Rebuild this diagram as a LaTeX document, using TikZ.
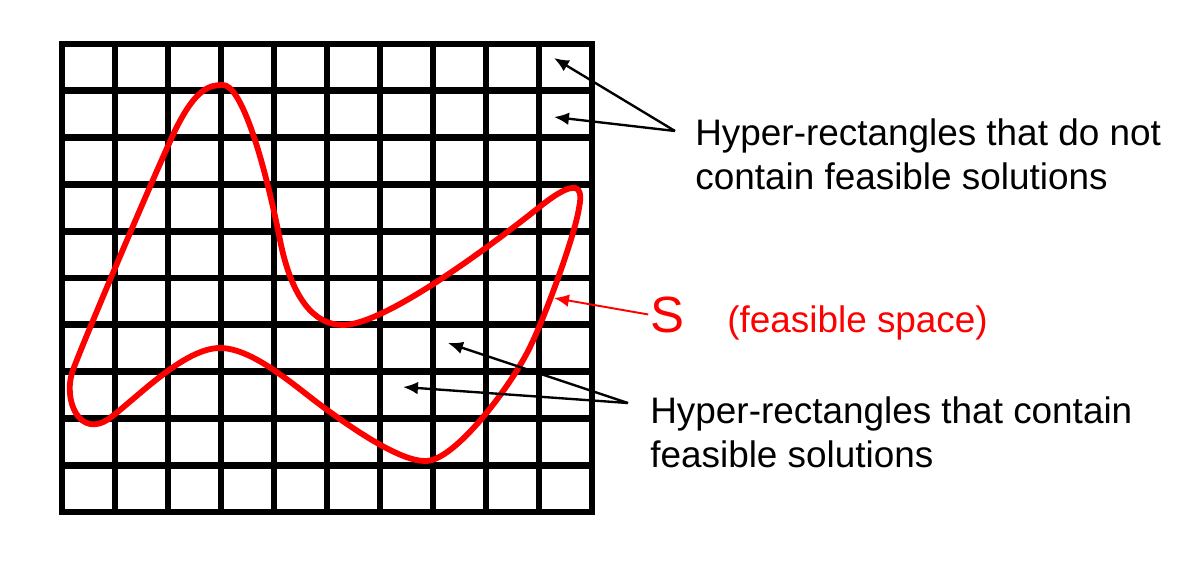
\documentclass[tikz,border=0pt]{standalone}
\usepackage{fontspec}
\setmainfont{Liberation Sans}
\usetikzlibrary{arrows.meta}

\tikzset{
  gridline/.style={line width=3.9pt, line cap=rect},
  region/.style={draw=red, line width=3.3pt},
  pointer/.style={-{Latex[length=8.5pt,width=7.2pt]}, line width=1.35pt},
  note/.style={inner sep=0pt, align=left, font=\fontsize{21}{25.5}\selectfont},
}

\begin{document}
\begin{tikzpicture}[x=0.02cm, y=-0.02cm]
  \useasboundingbox (0,0) rectangle (1200,576);

  % grid of hyper-rectangles
  \foreach \i in {0,...,10} {
    \draw[gridline] (62+53*\i,44) -- (62+53*\i,512);
    \draw[gridline] (62,44+46.8*\i) -- (592,44+46.8*\i);
  }

  % feasible space
  \draw[region] (223,85)
    .. controls (240,85) and (262,150) .. (280,240)
    .. controls (292,300) and (315,325) .. (343,325)
    .. controls (380,325) and (470,262) .. (537,209)
    .. controls (570,182) and (585,180) .. (579,208)
    .. controls (575,235) and (545,317) .. (530,347)
    .. controls (513,383) and (455,462) .. (425,461)
    .. controls (400,461) and (355,430) .. (330,412)
    .. controls (300,391) and (255,348) .. (220,348)
    .. controls (185,348) and (140,395) .. (110,418)
    .. controls (80,440) and (62,400) .. (73,370)
    .. controls (84,340) and (150,185) .. (172,137)
    .. controls (195,87) and (210,85) .. (223,85) -- cycle;

  % labels
  \node[note, anchor=north west] (empty) at (695,118)
    {Hyper-rectangles that do not\\contain feasible solutions};
  \node[note, anchor=north west] (full) at (650,396)
    {Hyper-rectangles that contain\\feasible solutions};
  \node[inner sep=0pt, anchor=base west, red, font=\fontsize{29}{34}\selectfont] (S) at (650,332) {S};
  \node[note, anchor=base west, red] (space) at (727,332) {(feasible space)};

  \coordinate (forkA) at (675,131);
  \coordinate (forkB) at (628,403);
  \coordinate (cellA) at (554,58);
  \coordinate (cellB) at (554,117);
  \coordinate (cellC) at (448,343);
  \coordinate (cellD) at (403,387);
  \coordinate (edge) at (554,298);

  \draw[pointer] (forkA) -- (cellA);
  \draw[pointer] (forkA) -- (cellB);
  \draw[pointer] (forkB) -- (cellC);
  \draw[pointer] (forkB) -- (cellD);
  \draw[pointer, red, line width=1.1pt] ([xshift=-1pt]S.west) -- (edge);
\end{tikzpicture}
\end{document}
